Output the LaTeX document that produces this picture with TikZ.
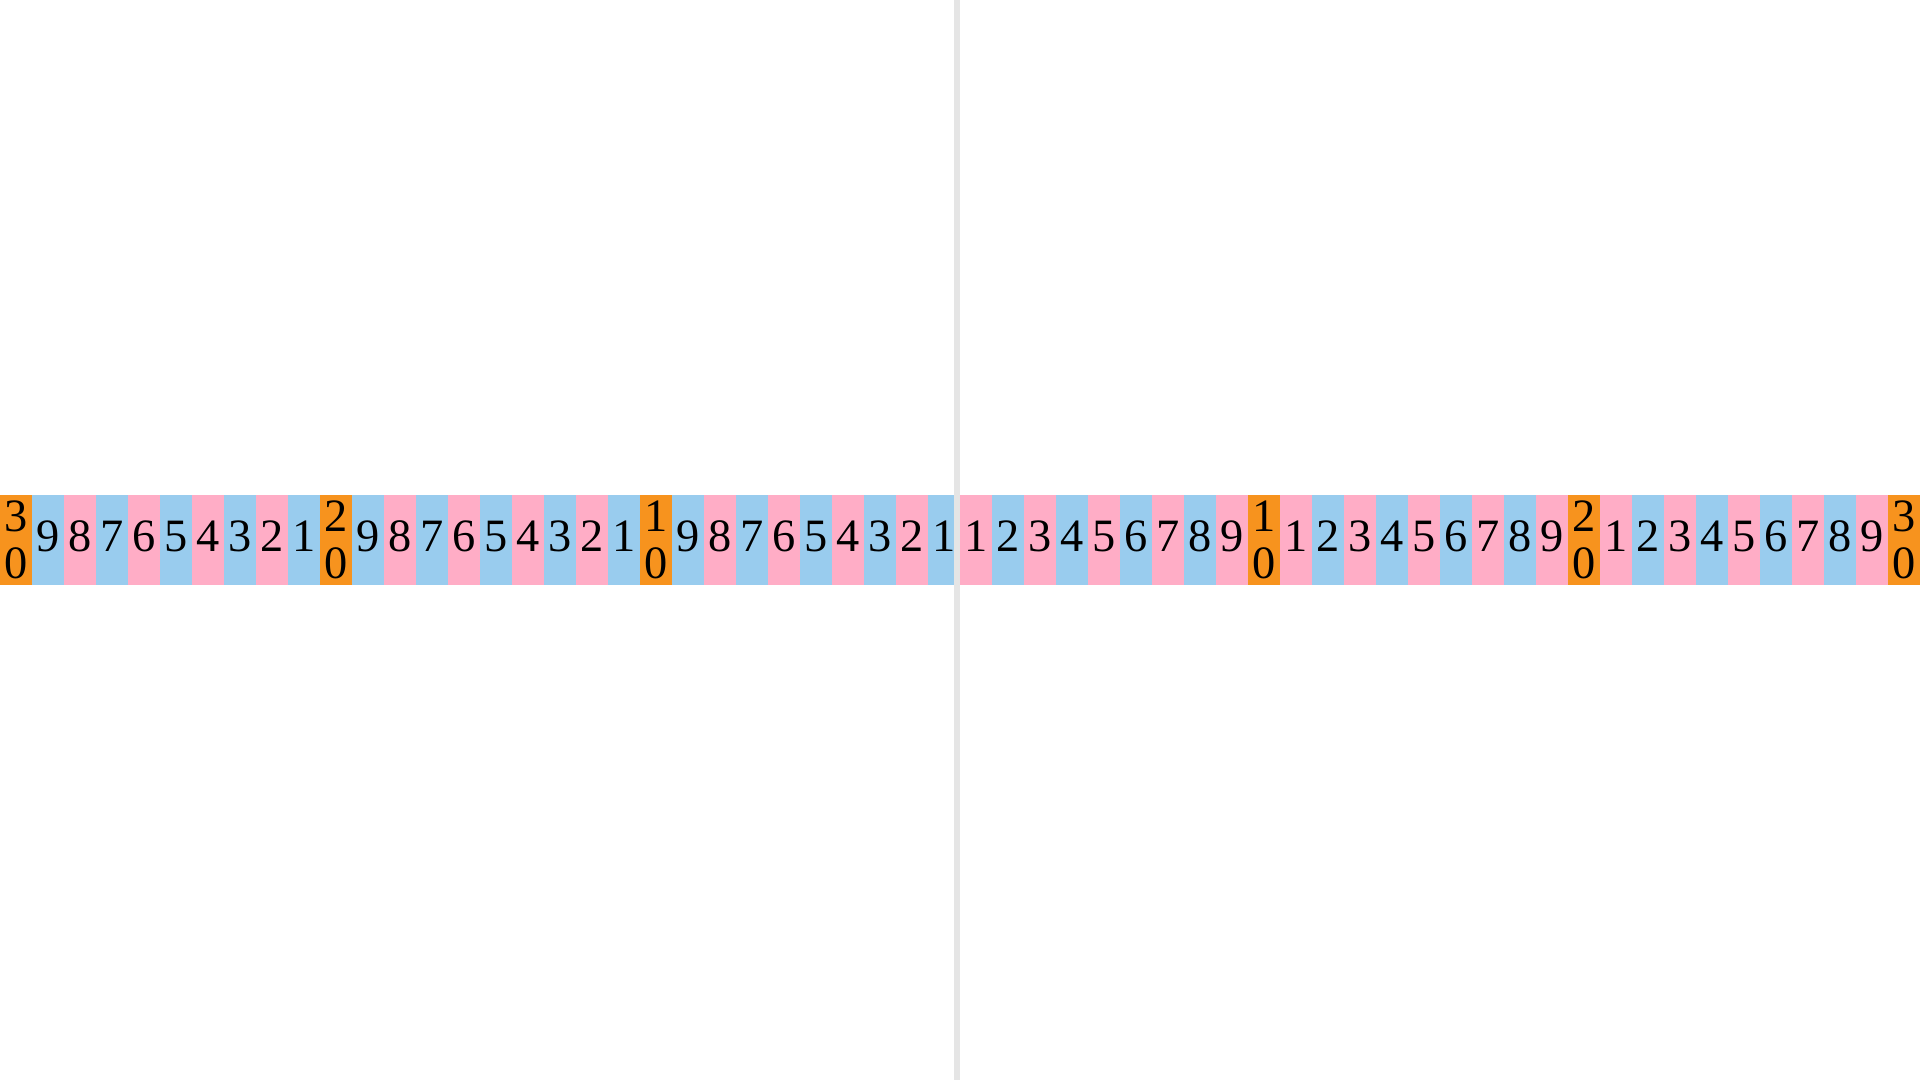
\documentclass[tikz,border=0pt]{standalone}
\usepackage{fontspec}
\setmainfont{Liberation Serif}
\usepackage{xcolor}
\usepackage{tikz}
\definecolor{rlorange}{HTML}{F7931E}
\definecolor{rlblue}{HTML}{99CCEE}
\definecolor{rlpink}{HTML}{FFADC6}
\definecolor{rlgray}{HTML}{E5E5E5}

\begin{document}
\begin{tikzpicture}[x=0.32cm, y=0.9cm,
  tickcell/.style={minimum width=0.32cm, minimum height=0.9cm, inner sep=0pt, font=\fontsize{13.2}{13.2}\selectfont},
  unitcell/.style={tickcell, text height=0.31cm, text depth=0.07cm},
  tencell/.style={tickcell, fill=rlorange, align=center},
  bluecell/.style={unitcell, fill=rlblue},
  pinkcell/.style={unitcell, fill=rlpink}]
  \useasboundingbox (0,-6) rectangle (60,6);
  % left half, counting down to the middle
  \node[tencell] (m30) at (0.5,0) {3\\0};
  \node[bluecell] (m29) at (1.5,0) {9};
  \node[pinkcell] (m28) at (2.5,0) {8};
  \node[bluecell] (m27) at (3.5,0) {7};
  \node[pinkcell] (m26) at (4.5,0) {6};
  \node[bluecell] (m25) at (5.5,0) {5};
  \node[pinkcell] (m24) at (6.5,0) {4};
  \node[bluecell] (m23) at (7.5,0) {3};
  \node[pinkcell] (m22) at (8.5,0) {2};
  \node[bluecell] (m21) at (9.5,0) {1};
  \node[tencell] (m20) at (10.5,0) {2\\0};
  \node[bluecell] (m19) at (11.5,0) {9};
  \node[pinkcell] (m18) at (12.5,0) {8};
  \node[bluecell] (m17) at (13.5,0) {7};
  \node[pinkcell] (m16) at (14.5,0) {6};
  \node[bluecell] (m15) at (15.5,0) {5};
  \node[pinkcell] (m14) at (16.5,0) {4};
  \node[bluecell] (m13) at (17.5,0) {3};
  \node[pinkcell] (m12) at (18.5,0) {2};
  \node[bluecell] (m11) at (19.5,0) {1};
  \node[tencell] (m10) at (20.5,0) {1\\0};
  \node[bluecell] (m9) at (21.5,0) {9};
  \node[pinkcell] (m8) at (22.5,0) {8};
  \node[bluecell] (m7) at (23.5,0) {7};
  \node[pinkcell] (m6) at (24.5,0) {6};
  \node[bluecell] (m5) at (25.5,0) {5};
  \node[pinkcell] (m4) at (26.5,0) {4};
  \node[bluecell] (m3) at (27.5,0) {3};
  \node[pinkcell] (m2) at (28.5,0) {2};
  \node[bluecell] (m1) at (29.5,0) {1};
  % right half, counting up from the middle
  \node[pinkcell] (p1) at (30.5,0) {1};
  \node[bluecell] (p2) at (31.5,0) {2};
  \node[pinkcell] (p3) at (32.5,0) {3};
  \node[bluecell] (p4) at (33.5,0) {4};
  \node[pinkcell] (p5) at (34.5,0) {5};
  \node[bluecell] (p6) at (35.5,0) {6};
  \node[pinkcell] (p7) at (36.5,0) {7};
  \node[bluecell] (p8) at (37.5,0) {8};
  \node[pinkcell] (p9) at (38.5,0) {9};
  \node[tencell] (p10) at (39.5,0) {1\\0};
  \node[pinkcell] (p11) at (40.5,0) {1};
  \node[bluecell] (p12) at (41.5,0) {2};
  \node[pinkcell] (p13) at (42.5,0) {3};
  \node[bluecell] (p14) at (43.5,0) {4};
  \node[pinkcell] (p15) at (44.5,0) {5};
  \node[bluecell] (p16) at (45.5,0) {6};
  \node[pinkcell] (p17) at (46.5,0) {7};
  \node[bluecell] (p18) at (47.5,0) {8};
  \node[pinkcell] (p19) at (48.5,0) {9};
  \node[tencell] (p20) at (49.5,0) {2\\0};
  \node[pinkcell] (p21) at (50.5,0) {1};
  \node[bluecell] (p22) at (51.5,0) {2};
  \node[pinkcell] (p23) at (52.5,0) {3};
  \node[bluecell] (p24) at (53.5,0) {4};
  \node[pinkcell] (p25) at (54.5,0) {5};
  \node[bluecell] (p26) at (55.5,0) {6};
  \node[pinkcell] (p27) at (56.5,0) {7};
  \node[bluecell] (p28) at (57.5,0) {8};
  \node[pinkcell] (p29) at (58.5,0) {9};
  \node[tencell] (p30) at (59.5,0) {3\\0};
  % middle divider
  \fill[rlgray] (29.8125,-6) rectangle (30,6);
\end{tikzpicture}
\end{document}
